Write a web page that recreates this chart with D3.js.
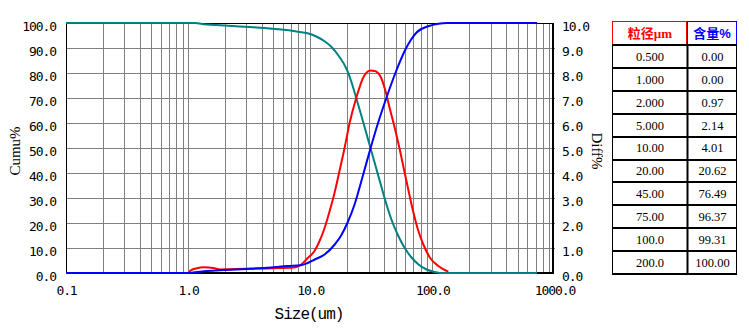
<!DOCTYPE html>
<html><head><meta charset="utf-8">
<script src="https://cdn.jsdelivr.net/npm/d3@7"></script>
<style>
html,body{margin:0;padding:0;background:#fff;}
svg{display:block;}
</style></head>
<body>
<svg id="chart" width="749" height="332"></svg>
<script>
// ---------- data ----------
const xTickValues = [0.1, 1, 10, 100, 1000];
const xTickLabels = ["0.1", "1.0", "10.0", "100.0", "1000.0"];
const leftTickValues = [0, 10, 20, 30, 40, 50, 60, 70, 80, 90, 100];
const rightTickValues = [0, 1, 2, 3, 4, 5, 6, 7, 8, 9, 10];

// cumulative undersize % (blue)
const cumSize  = [0.1, 1.0, 1.15, 1.43, 2.0, 3.0, 4.2, 5.2, 6.5, 8.4, 9.53, 10.8, 13.1, 15.8, 17.9, 20.3, 23.1, 27.0, 31.2, 35.9, 42.0, 49.8, 60.3, 66.8, 74.2, 92.5, 111.9, 130.9, 720];
const cumValue = [0, 0, 0.3, 0.8, 1.2, 1.6, 2.0, 2.4, 2.8, 3.1, 4.0, 5.3, 7.4, 11.3, 15.0, 20.4, 27.5, 39, 50, 60, 70, 80, 89.5, 93.3, 96.2, 98.7, 99.7, 100, 100];

// cumulative oversize % (teal)
const overSize  = [0.1, 1.15, 1.3, 1.7, 2.3, 3.2, 4.2, 5.2, 6.4, 8.0, 9.5, 11.1, 13.0, 14.8, 17.3, 20.1, 21.7, 23.8, 26.2, 27.9, 29.7, 31.2, 33.5, 37.0, 40.6, 46.1, 52.4, 59.4, 67.5, 76.6, 89.6, 104.9, 115.3, 720];
const overValue = [100, 100, 99.6, 99.2, 98.8, 98.4, 98.0, 97.6, 97.2, 96.5, 95.9, 94.7, 92.8, 90.6, 86.5, 81, 76.5, 70, 63, 58.3, 53.5, 49.8, 44.5, 37, 30, 21.5, 15, 10, 6.2, 3.5, 1.4, 0.4, 0, 0];

// differential % (red, right axis)
const diffSize  = [0.1, 1.0, 1.04, 1.18, 1.335, 1.61, 1.83, 2.2, 3.0, 5.0, 7.3, 8.4, 9.53, 10.8, 11.9, 13.1, 14.4, 15.8, 17.3, 19.1, 21.0, 23.8, 27.5, 31.2, 33.7, 37.7, 41.2, 44.7, 49.2, 54.0, 58.5, 63.4, 69.7, 76.6, 84.2, 95.3, 111.9, 135];
const diffValue = [0, 0, 0.09, 0.19, 0.23, 0.2, 0.14, 0.15, 0.17, 0.19, 0.22, 0.33, 0.6, 0.87, 1.27, 1.8, 2.47, 3.2, 4.05, 5.0, 6.0, 7.0, 7.87, 8.1, 8.08, 7.85, 7.3, 6.6, 5.8, 4.95, 4.15, 3.35, 2.45, 1.7, 1.15, 0.62, 0.28, 0.05];

// table
const tableHeaders = ["粒径µm", "含量%"];
const tableSizes  = ["0.500", "1.000", "2.000", "5.000", "10.00", "20.00", "45.00", "75.00", "100.0", "200.0"];
const tableValues = ["0.00", "0.00", "0.97", "2.14", "4.01", "20.62", "76.49", "96.37", "99.31", "100.00"];

// ---------- layout ----------
const svg = d3.select("#chart");
const L = 66, R = 554.5, T = 23, B = 273;
const x = d3.scaleLog().domain([0.1, 1000]).range([L, R]);
const yL = d3.scaleLinear().domain([0, 100]).range([B, T]);
const yR = d3.scaleLinear().domain([0, 10]).range([B, T]);

svg.append("rect").attr("width", 749).attr("height", 332).attr("fill", "#fff");

// grid
const minorX = [];
for (let d = 0.1; d < 1000; d *= 10) for (let k = 1; k <= 9; k++) minorX.push(+(d * k).toPrecision(3));
const gx = svg.append("g").attr("transform", `translate(0,${B})`)
  .call(d3.axisBottom(x).tickValues(minorX.filter(v => v > 0.1)).tickSize(-(B - T)).tickFormat(""));
gx.select(".domain").remove();
gx.selectAll("line").attr("stroke", "#808080").attr("shape-rendering", "crispEdges");
const gy = svg.append("g").attr("transform", `translate(${L},0)`)
  .call(d3.axisLeft(yL).tickValues(leftTickValues.filter(v => v > 0 && v < 100)).tickSize(-(R - L)).tickFormat(""));
gy.select(".domain").remove();
gy.selectAll("line").attr("stroke", "#808080").attr("shape-rendering", "crispEdges");

// frame
svg.append("line").attr("x1", 66.5).attr("x2", 66.5).attr("y1", 22.5).attr("y2", 274).attr("stroke", "#000");
svg.append("line").attr("x1", 66).attr("x2", 554).attr("y1", 23.5).attr("y2", 23.5).attr("stroke", "#000");
svg.append("line").attr("x1", 553).attr("x2", 553).attr("y1", 23).attr("y2", 274).attr("stroke", "#000").attr("stroke-width", 2);
svg.append("line").attr("x1", 66).attr("x2", 554).attr("y1", 273).attr("y2", 273).attr("stroke", "#000").attr("stroke-width", 2);

// axes labels
const monoFont = "'DejaVu Sans Mono', 'Liberation Mono', monospace";
function styleTicks(g) {
  g.select(".domain").remove();
  g.selectAll("line").remove();
  g.selectAll("text").attr("font-family", monoFont).attr("font-size", 13)
    .attr("letter-spacing", "-1.1px").attr("fill", "#000");
}
svg.append("g").attr("transform", `translate(${L},0)`)
  .call(d3.axisLeft(yL).tickValues(leftTickValues).tickSize(0).tickPadding(10).tickFormat(d3.format(".1f")))
  .call(styleTicks).selectAll("text").attr("dy", "0.6em");
svg.append("g").attr("transform", `translate(553,0)`)
  .call(d3.axisRight(yR).tickValues(rightTickValues).tickSize(0).tickPadding(9).tickFormat(d3.format(".1f")))
  .call(styleTicks).selectAll("text").attr("dy", "0.6em");
svg.append("g").attr("transform", `translate(0,${B})`)
  .call(d3.axisBottom(x).tickValues(xTickValues).tickSize(0).tickPadding(13).tickFormat((d, i) => xTickLabels[i]))
  .call(styleTicks);

svg.append("text").attr("x", 309).attr("y", 319).attr("text-anchor", "middle")
  .attr("font-family", "'Liberation Mono', monospace").attr("font-size", 16).attr("letter-spacing", "-1px").text("Size(um)");
svg.append("text").attr("transform", "translate(20,151) rotate(-90)").attr("text-anchor", "middle")
  .attr("font-family", "'Liberation Serif', serif").attr("font-size", 15).text("Cumu%");
svg.append("text").attr("transform", "translate(592,151) rotate(90)").attr("text-anchor", "middle")
  .attr("font-family", "'Liberation Serif', serif").attr("font-size", 15).text("Diff%");

// curves
const lineL = d3.line().x(d => x(d[0])).y(d => yL(d[1])).curve(d3.curveMonotoneX);
const lineR = d3.line().x(d => x(d[0])).y(d => yR(d[1])).curve(d3.curveMonotoneX);
const zip = (a, b) => a.map((v, i) => [v, b[i]]);
svg.append("path").attr("d", lineL(zip(overSize, overValue))).attr("fill", "none")
  .attr("stroke", "#008080").attr("stroke-width", 2);
svg.append("path").attr("d", lineR(zip(diffSize, diffValue))).attr("fill", "none")
  .attr("stroke", "#ff0000").attr("stroke-width", 2);
svg.append("path").attr("d", lineL(zip(cumSize, cumValue))).attr("fill", "none")
  .attr("stroke", "#0000ff").attr("stroke-width", 2);

// table
const tx0 = 612.5, tx1 = 687.5, tx2 = 736.5;
const hy0 = 21.5, hy1 = 44.5;
const rowY = d3.scaleLinear().domain([0, tableSizes.length]).range([45, 274]);
const tbl = svg.append("g");
tbl.append("rect").attr("x", tx0).attr("y", hy0).attr("width", tx1 - tx0 - 1).attr("height", hy1 - hy0)
  .attr("fill", "none").attr("stroke", "#ff0000");
tbl.append("rect").attr("x", tx1).attr("y", hy0).attr("width", tx2 - tx1).attr("height", hy1 - hy0)
  .attr("fill", "none").attr("stroke", "#0000ff");
const cjk = "'Noto Sans CJK SC', sans-serif";
const hdr = tbl.append("text").attr("x", (tx0 + tx1) / 2).attr("y", 33).attr("dy", "0.35em")
  .attr("text-anchor", "middle").attr("fill", "#ff0000").attr("font-weight", "bold").attr("font-size", 13);
hdr.append("tspan").attr("font-family", cjk).text(tableHeaders[0].slice(0, 2));
hdr.append("tspan").attr("font-family", "'Liberation Serif', serif").text(tableHeaders[0].slice(2));
const hdr2 = tbl.append("text").attr("x", (tx1 + tx2) / 2).attr("y", 33).attr("dy", "0.35em")
  .attr("text-anchor", "middle").attr("fill", "#0000ff").attr("font-weight", "bold").attr("font-size", 13);
hdr2.append("tspan").attr("font-family", cjk).text(tableHeaders[1].slice(0, 2));
hdr2.append("tspan").attr("font-family", "'Liberation Sans', sans-serif").text(tableHeaders[1].slice(2));

// grid lines of table body
for (let i = 0; i <= tableSizes.length; i++) {
  const yy = Math.round(rowY(i));
  tbl.append("line").attr("x1", 612).attr("x2", 737).attr("y1", yy).attr("y2", yy)
    .attr("stroke", "#000").attr("stroke-width", 2);
}
tbl.append("line").attr("x1", tx0).attr("x2", tx0).attr("y1", 45).attr("y2", 274).attr("stroke", "#000");
tbl.append("line").attr("x1", tx2).attr("x2", tx2).attr("y1", 45).attr("y2", 274).attr("stroke", "#000");
tbl.append("line").attr("x1", 687.5).attr("x2", 687.5).attr("y1", 45).attr("y2", 274).attr("stroke", "#000").attr("stroke-width", 2);

const serif = "'Liberation Serif', serif";
tbl.selectAll("text.sz").data(tableSizes).join("text").attr("class", "sz")
  .attr("x", (tx0 + tx1) / 2).attr("y", (d, i) => (rowY(i) + rowY(i + 1)) / 2).attr("dy", "0.35em")
  .attr("text-anchor", "middle").attr("font-family", serif).attr("font-size", 12.5).text(d => d);
tbl.selectAll("text.vl").data(tableValues).join("text").attr("class", "vl")
  .attr("x", (tx1 + tx2) / 2 + 0.5).attr("y", (d, i) => (rowY(i) + rowY(i + 1)) / 2).attr("dy", "0.35em")
  .attr("text-anchor", "middle").attr("font-family", serif).attr("font-size", 12.5).text(d => d);
</script>
</body></html>
